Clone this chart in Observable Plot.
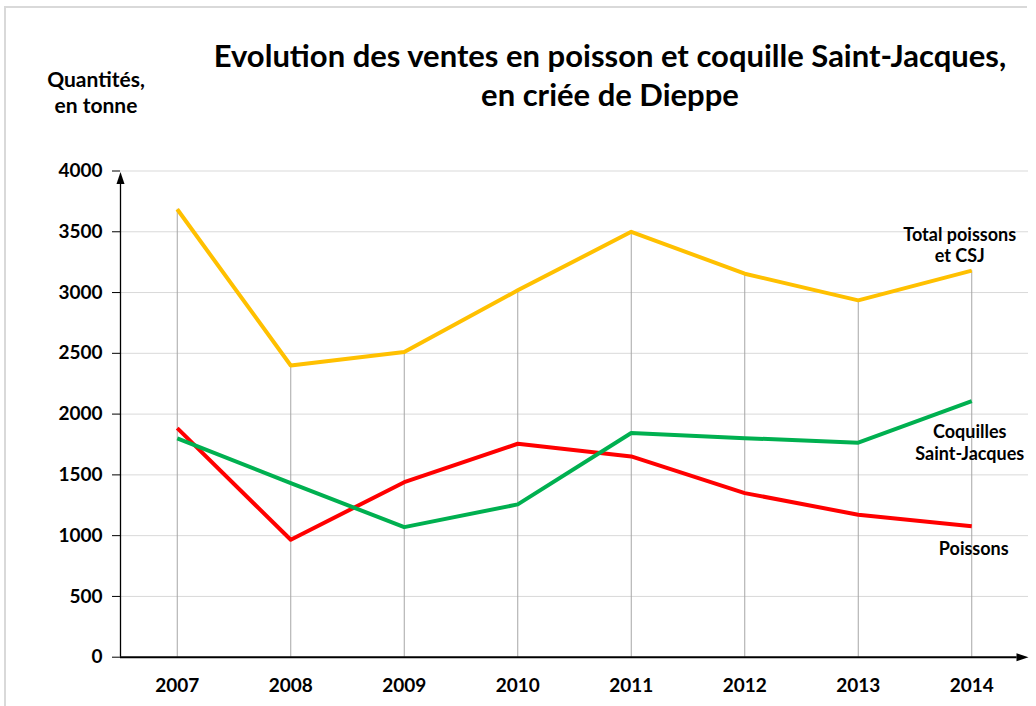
<!DOCTYPE html>
<html><head><meta charset="utf-8">
<script src="https://cdn.jsdelivr.net/npm/d3@7"></script>
<script src="https://cdn.jsdelivr.net/npm/@observablehq/plot@0.6"></script>
<style>
body{margin:0;background:#fff;}
#wrap{position:relative;width:1036px;height:706px;overflow:hidden;font-family:Lato,"Open Sans",sans-serif;font-weight:700;color:#000;background:#fff;}
#frame{position:absolute;left:4px;top:6px;width:1023px;height:720px;border-top:2px solid #d9d9d9;border-left:2px solid #d9d9d9;box-sizing:border-box;}
#title{position:absolute;left:110px;top:35.5px;width:1000px;text-align:center;font-size:31px;line-height:39px;white-space:nowrap;}
#ylabel{position:absolute;left:0;top:65.5px;width:192px;text-align:center;font-size:21px;line-height:26px;}
#chart{position:absolute;left:0;top:0;}
#chart svg text{font-weight:700;}
</style></head><body>
<div id="wrap">
 <div id="frame"></div>
 <div id="chart"></div>
 <div id="title">Evolution des ventes en poisson et coquille Saint-Jacques,<br>en criée de Dieppe</div>
 <div id="ylabel">Quantités,<br>en tonne</div>
</div>
<script>
const years = [2007, 2008, 2009, 2010, 2011, 2012, 2013, 2014];
const poissons = [1885, 966, 1440, 1756, 1652, 1350, 1172, 1078];
const coquilles = [1800, 1432, 1070, 1257, 1844, 1802, 1765, 2107];
const total = [3685, 2400, 2510, 3018, 3500, 3155, 2936, 3180];
const yTicks = [0, 500, 1000, 1500, 2000, 2500, 3000, 3500, 4000];
const seriesNames = ["Poissons", "Coquilles\nSaint-Jacques", "Total poissons\net CSJ"];
const seriesColors = ["#FF0000", "#00B050", "#FFC000"];

const seriesValues = [poissons, coquilles, total];
const rows = [];
seriesNames.forEach((s, i) => years.forEach((y, j) => rows.push({series: s, year: y, value: seriesValues[i][j]})));
const totalRows = years.map((y, j) => ({year: y, value: total[j]}));
const last = (i) => [{series: seriesNames[i], year: years[years.length - 1], value: seriesValues[i][years.length - 1]}];

const x0 = 2006.5, x1 = 2014.5;
const arrowHead = {draw(ctx) { ctx.moveTo(0, 0); ctx.lineTo(-4, 12); ctx.lineTo(4, 12); ctx.closePath(); }};
const font = "Lato, 'Open Sans', sans-serif";

const chart = Plot.plot({
  width: 1036, height: 706,
  marginLeft: 120, marginRight: 8, marginTop: 170.5, marginBottom: 49.3,
  x: {domain: [x0, x1], axis: null},
  y: {domain: [0, 4000], axis: null},
  color: {domain: seriesNames, range: seriesColors},
  style: {fontFamily: font, background: "transparent", color: "#000"},
  marks: [
    Plot.ruleY(yTicks.filter(d => d > 0), {y: d => d, x1: x0, x2: x1, stroke: "#d9d9d9", strokeWidth: 1}),
    Plot.ruleX(totalRows, {x: "year", y1: 0, y2: "value", stroke: "#a6a6a6", strokeWidth: 1}),
    Plot.ruleX([x0], {x: d => d, y1: 0, y2: 3900, stroke: "#000", strokeWidth: 1.3}),
    Plot.ruleY([0], {y: d => d, x1: x0, x2: 2014.4, stroke: "#000", strokeWidth: 2}),
    Plot.dot([4000], {x: x0, y: d => d, symbol: arrowHead, fill: "#000", stroke: null, dy: 1}),
    Plot.dot([0], {x: x1, y: d => d, symbol: arrowHead, fill: "#000", stroke: null, rotate: 90}),
    Plot.axisY({ticks: yTicks, tickSize: 8, tickPadding: 10, fontSize: 19, fontWeight: 700, label: null, tickFormat: d => String(d), stroke: "#000"}),
    Plot.axisX({ticks: years, tickSize: 0, tickPadding: 21, fontSize: 19, fontWeight: 700, label: null, tickFormat: d => String(d)}),
    Plot.line(rows, {x: "year", y: "value", z: "series", stroke: "series", strokeWidth: 4, strokeLinejoin: "round", strokeLinecap: "butt"}),
    Plot.text(last(2), {x: "year", y: "value", text: "series", lineAnchor: "bottom", dx: -12, dy: -9, fontSize: 18, fontWeight: 700, lineHeight: 1.15, fill: "#000"}),
    Plot.text(last(1), {x: "year", y: "value", text: "series", lineAnchor: "top", dx: -2, dy: 21.5, fontSize: 18, fontWeight: 700, lineHeight: 1.2, fill: "#000"}),
    Plot.text(last(0), {x: "year", y: "value", text: "series", lineAnchor: "top", dx: 2, dy: 16, fontSize: 18, fontWeight: 700, fill: "#000"})
  ]
});
document.getElementById("chart").appendChild(chart);
</script>
</body></html>
